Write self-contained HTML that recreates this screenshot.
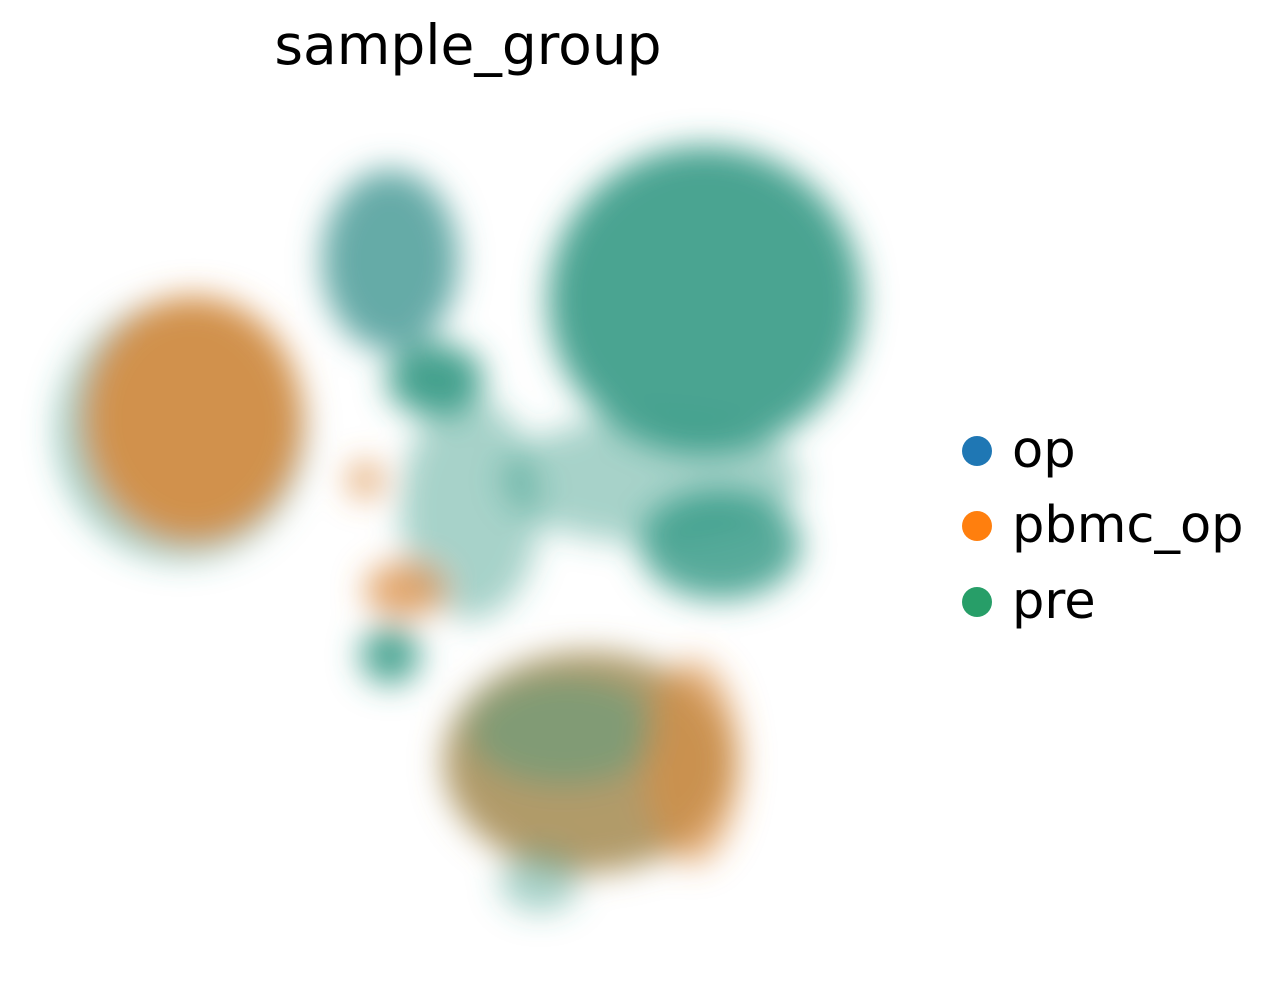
<!DOCTYPE html>
<html><head><meta charset="utf-8"><style>
body{margin:0;background:#fff;width:1288px;height:988px;overflow:hidden;font-family:"Liberation Sans","DejaVu Sans",sans-serif}
</style></head><body>
<svg width="1288" height="988" xmlns="http://www.w3.org/2000/svg">
<defs>
<filter id="blur" x="-50%" y="-50%" width="200%" height="200%"><feGaussianBlur stdDeviation="16"/></filter>
</defs>
<text x="468" y="64" text-anchor="middle" font-size="55" font-family="DejaVu Sans, sans-serif">sample_group</text>
<g id="plot" filter="url(#blur)"></g>
<g font-family="DejaVu Sans, sans-serif" font-size="51">
<g><circle cx="977" cy="451" r="15" fill="#1f77b4"/><text x="1012" y="467">op</text></g>
<g><circle cx="977" cy="526" r="15" fill="#ff7f0e"/><text x="1012" y="542">pbmc_op</text></g>
<g><circle cx="977" cy="602" r="15" fill="#279e68"/><text x="1012" y="618">pre</text></g>
</g>
</svg>
<script>
const blobX = [14.5, 16, 72.7, 50.3, 40.4, 46, 79.5, 81.4, 42.2, 37.3, 40.4, 65, 62, 78, 59];
const blobY = [62, 63.5, 55.7, 52, 83.5, 68.4, 78.5, 47.5, 41.8, 55.7, 33.5, 20, 24, 20, 5];
const blobRx = [15.5, 13.5, 18.6, 8.7, 8.5, 6, 19.5, 10, 5, 2.2, 3.7, 18, 12, 6, 5];
const blobRy = [16.5, 15.5, 8, 14, 11.5, 4.6, 19.5, 7, 3.5, 2.4, 3.7, 14, 7, 13, 4];
const blobGroup = ["pre","pbmc_op","pre","pre","op","pre","pre","pre","pbmc_op","pbmc_op","pre","mix","pre","pbmc_op","pre"];
const blobAlpha = [0.55, 0.88, 0.45, 0.45, 0.85, 0.95, 0.92, 0.85, 0.75, 0.7, 0.9, 0.9, 0.4, 0.6, 0.45];
const groupColor = {op:"#4a9c98", pbmc_op:"#da8a3e", pre:"#3a9c88", mix:"#a8905a"};
const xScale = v => 65 + v * 8.05;
const yScale = v => 920 - v * 7.9;
const g = document.getElementById('plot');
for (let i = 0; i < blobX.length; i++) {
  const e = document.createElementNS('http://www.w3.org/2000/svg', 'ellipse');
  e.setAttribute('cx', xScale(blobX[i]));
  e.setAttribute('cy', yScale(blobY[i]));
  e.setAttribute('rx', blobRx[i] * 8.05);
  e.setAttribute('ry', blobRy[i] * 7.9);
  e.setAttribute('fill', groupColor[blobGroup[i]]);
  e.setAttribute('fill-opacity', blobAlpha[i]);
  
  
  g.appendChild(e);
}
</script>
</body></html>
